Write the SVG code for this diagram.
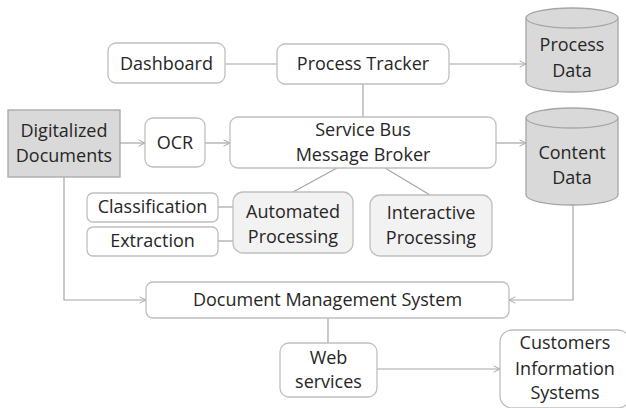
<svg xmlns="http://www.w3.org/2000/svg" width="626" height="408" viewBox="0 0 626 408">
<defs>
<style>
.b{fill:#fff;stroke:#bfbfbf;stroke-width:1.3}
.g{fill:#f2f2f2;stroke:#bfbfbf;stroke-width:1.3}
.d{fill:#d9d9d9;stroke:#a6a6a6;stroke-width:1.3}
.c{fill:#d9d9d9;stroke:#a6a6a6;stroke-width:1.3}
.l{fill:none;stroke:#a6a6a6;stroke-width:1.2}
text{font-family:"Open Sans","Liberation Sans",sans-serif;font-size:18px;fill:#262626;text-anchor:middle}
</style>
<marker id="a" viewBox="0 0 10 10" refX="9" refY="5" markerWidth="8" markerHeight="8" markerUnits="userSpaceOnUse" orient="auto">
<polyline points="1,1 9,5 1,9" fill="none" stroke="#a6a6a6" stroke-width="1.2"/>
</marker>
</defs>
<rect width="626" height="408" fill="#fff"/>
<g id="connectors">
<line class="l" x1="225" y1="64" x2="277" y2="64"/>
<line class="l" x1="449" y1="64" x2="526" y2="64" marker-end="url(#a)"/>
<line class="l" x1="363" y1="84" x2="363" y2="117"/>
<line class="l" x1="120" y1="143" x2="145" y2="143" marker-end="url(#a)"/>
<line class="l" x1="205" y1="143" x2="230" y2="143" marker-end="url(#a)"/>
<line class="l" x1="496" y1="143" x2="526" y2="143" marker-end="url(#a)"/>
<line class="l" x1="337" y1="168" x2="293" y2="192"/>
<line class="l" x1="385" y1="168" x2="430" y2="195"/>
<line class="l" x1="218" y1="207" x2="233" y2="207"/>
<line class="l" x1="218" y1="241" x2="233" y2="241"/>
<polyline class="l" points="64,177 64,300 146,300" marker-end="url(#a)"/>
<polyline class="l" points="573,205 573,300 509,300" marker-end="url(#a)"/>
<line class="l" x1="328" y1="318" x2="328" y2="343"/>
<line class="l" x1="377" y1="369" x2="500" y2="369" marker-end="url(#a)"/>
</g>
<g id="dashboard"><rect class="b" x="108" y="43" width="117" height="40" rx="8"/><text x="166.5" y="70">Dashboard</text></g>
<g id="process-tracker"><rect class="b" x="277" y="44" width="172" height="40" rx="8"/><text x="363" y="70">Process Tracker</text></g>
<g id="process-data">
<path class="c" d="M526,18 L526,82 A46,10 0 0 0 618,82 L618,18"/>
<ellipse class="c" cx="572" cy="18" rx="46" ry="10" stroke="#bfbfbf"/>
<text x="572" y="51">Process</text><text x="572" y="77">Data</text></g>
<g id="digitalized-documents"><rect class="d" x="8" y="110" width="112" height="67"/><text x="64" y="137">Digitalized</text><text x="64" y="162">Documents</text></g>
<g id="ocr"><rect class="b" x="145" y="118" width="60" height="49" rx="8"/><text x="175" y="149">OCR</text></g>
<g id="service-bus"><rect class="b" x="230" y="117" width="266" height="51" rx="8"/><text x="363" y="136">Service Bus</text><text x="363" y="161">Message Broker</text></g>
<g id="content-data">
<path class="c" d="M526,118 L526,195 A46,10 0 0 0 618,195 L618,118"/>
<ellipse class="c" cx="572" cy="118" rx="46" ry="10" stroke="#bfbfbf"/>
<text x="572" y="159">Content</text><text x="572" y="184">Data</text></g>
<g id="classification"><rect class="b" x="87" y="193" width="131" height="29" rx="6"/><text x="152.5" y="213">Classification</text></g>
<g id="extraction"><rect class="b" x="87" y="227" width="131" height="29" rx="6"/><text x="152.5" y="247">Extraction</text></g>
<g id="automated-processing"><rect class="g" x="233" y="192" width="120" height="61" rx="10"/><text x="293" y="218">Automated</text><text x="293" y="243">Processing</text></g>
<g id="interactive-processing"><rect class="g" x="370" y="195" width="122" height="61" rx="10"/><text x="431" y="219">Interactive</text><text x="431" y="244">Processing</text></g>
<g id="dms"><rect class="b" x="146" y="282" width="363" height="36" rx="7"/><text x="327.5" y="306">Document Management System</text></g>
<g id="web-services"><rect class="b" x="280" y="343" width="97" height="54" rx="9"/><text x="328.5" y="364">Web</text><text x="328.5" y="388">services</text></g>
<g id="customers"><rect class="b" x="500" y="330" width="130" height="78" rx="12"/><text x="565" y="349">Customers</text><text x="565" y="375">Information</text><text x="565" y="399">Systems</text></g>
</svg>
